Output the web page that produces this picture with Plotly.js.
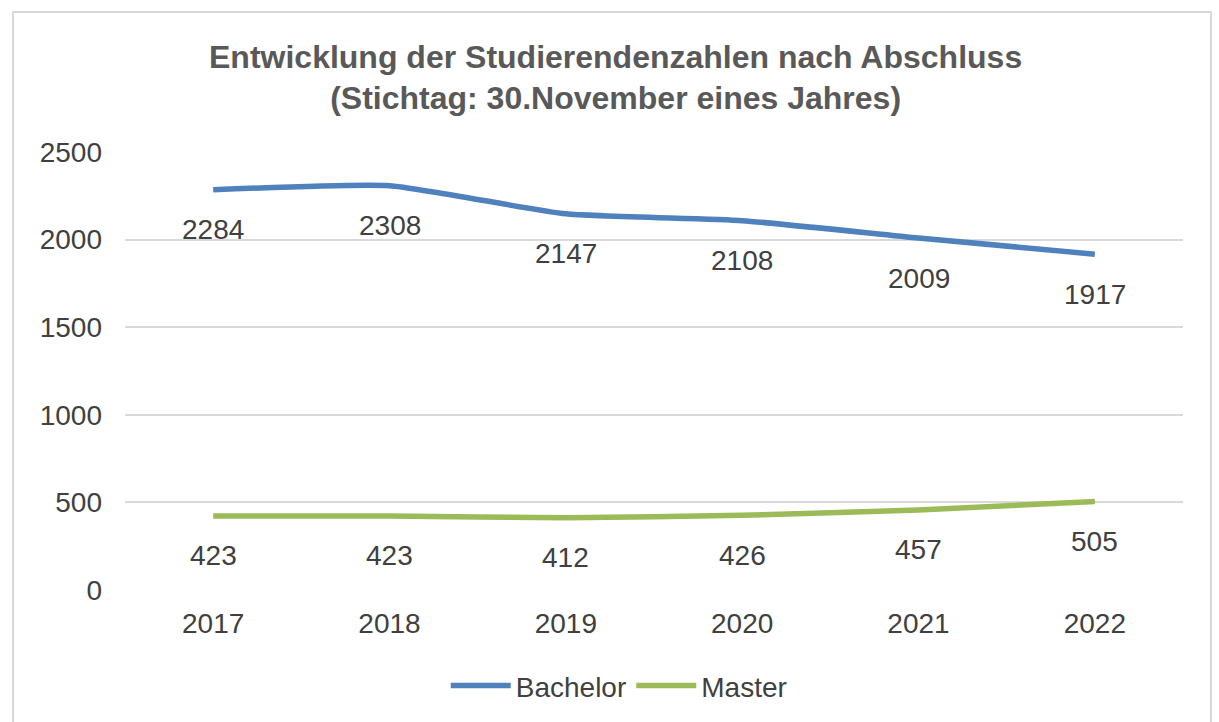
<!DOCTYPE html>
<html><head><meta charset="utf-8">
<script src="https://cdn.plot.ly/plotly-3.0.1.min.js"></script>
<style>
html,body{margin:0;padding:0;background:#fff;}
#wrap{position:relative;width:1219px;height:722px;overflow:hidden;}
#chart{position:absolute;left:0;top:0;width:1219px;height:722px;}
#frame{position:absolute;left:12px;top:11px;width:1200px;height:720px;border:2px solid #d9d9d9;pointer-events:none;box-sizing:border-box;}
</style></head>
<body>
<div id="wrap"><div id="chart"></div><div id="frame"></div></div>
<script>
const years = ['2017','2018','2019','2020','2021','2022'];
const bachelor = [2284, 2308, 2147, 2108, 2009, 1917];
const master = [423, 423, 412, 426, 457, 505];
const seriesNames = ['Bachelor','Master'];
const colors = ['#4F81BD','#9BBB59'];
const yTicks = [0, 500, 1000, 1500, 2000, 2500];

const font = 'Liberation Sans, Arial, sans-serif';
const textColor = '#404040';

const traces = [bachelor, master].map((vals, i) => ({
  x: years, y: vals, type: 'scatter', mode: 'lines', name: seriesNames[i],
  line: {color: colors[i], width: 5.5, shape: 'spline', smoothing: 0.5},
  hoverinfo: 'skip'
}));

const annotations = [];
[bachelor, master].forEach(vals => {
  vals.forEach((v, j) => annotations.push({
    x: j, y: v, xref: 'x', yref: 'y', text: String(v), showarrow: false,
    yshift: -40, font: {family: font, size: 28, color: textColor}
  }));
});

const layout = {
  width: 1219, height: 722,
  margin: {l: 125, r: 36, t: 152, b: 132},
  paper_bgcolor: '#ffffff', plot_bgcolor: '#ffffff',
  title: {
    text: '<b>Entwicklung der Studierendenzahlen nach Abschluss<br>(Stichtag: 30.November eines Jahres)</b>',
    xref: 'container', x: 0.505, xanchor: 'center',
    yref: 'container', y: 0.906, yanchor: 'middle',
    font: {family: font, size: 32, color: '#595959'}
  },
  xaxis: {
    type: 'category', range: [-0.5, 5.5], showgrid: false, zeroline: false,
    showline: false, ticks: '', ticklabelstandoff: 14,
    tickfont: {family: font, size: 28, color: textColor}
  },
  yaxis: {
    range: [0, 2500], tickvals: yTicks, showgrid: true, gridcolor: '#d9d9d9', gridwidth: 2,
    zeroline: false, showline: false, ticks: '', ticklabelstandoff: 22,
    tickfont: {family: font, size: 28, color: textColor}
  },
  showlegend: true,
  legend: {
    orientation: 'h', xref: 'container', yref: 'container',
    x: 0.508, xanchor: 'center', y: 0.05, yanchor: 'middle',
    font: {family: font, size: 28, color: textColor},
    itemwidth: 60
  },
  annotations: annotations
};

Plotly.newPlot('chart', traces, layout, {displayModeBar: false, staticPlot: true});
</script>
</body></html>
